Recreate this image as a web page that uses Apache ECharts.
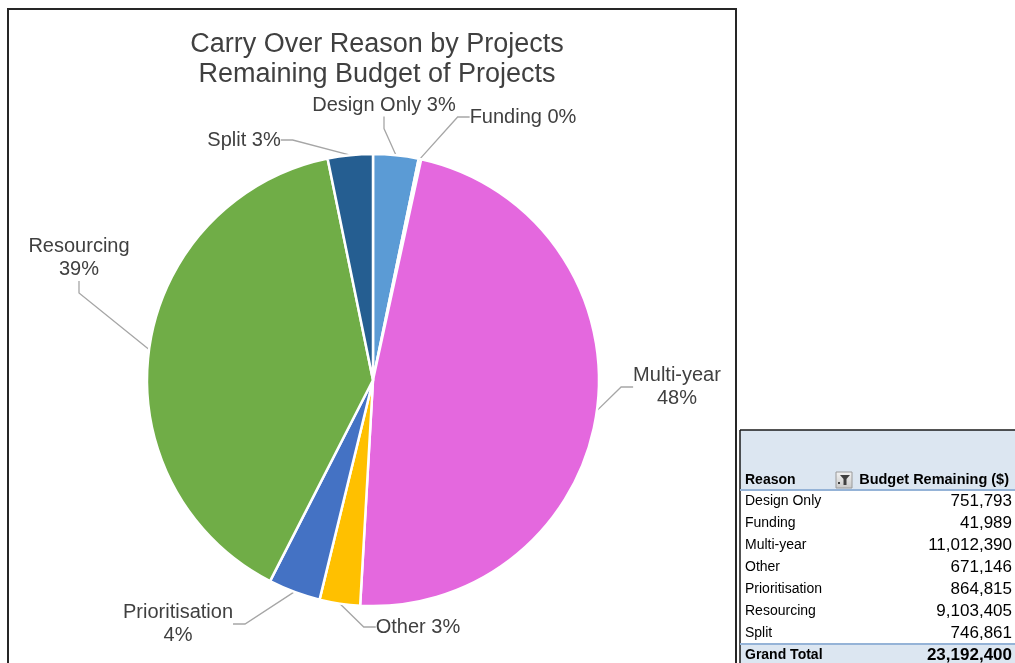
<!DOCTYPE html>
<html>
<head>
<meta charset="utf-8">
<title>Carry Over Reason by Projects</title>
<script src="https://cdn.jsdelivr.net/npm/echarts@6/dist/echarts.min.js"></script>
<style>
  html, body { margin: 0; padding: 0; background: #ffffff; }
  #chart { width: 1015px; height: 663px; }
</style>
</head>
<body>
<div id="chart"></div>
<script>
// Carry-over reasons and the budget still remaining for each
const reasons = ['Design Only', 'Funding', 'Multi-year', 'Other', 'Prioritisation', 'Resourcing', 'Split'];
const budgetRemaining = [751793, 41989, 11012390, 671146, 864815, 9103405, 746861];
const grandTotal = 23192400;
const sliceColors = ['#5B9BD5', '#ED7D31', '#E468DE', '#FFC000', '#4472C4', '#70AD47', '#255E91'];
// reasons whose label wraps onto two lines
const twoLineLabels = ['Multi-year', 'Resourcing', 'Prioritisation'];

const FONT = '"Liberation Sans", Arial, sans-serif';
const TEXT = '#404040';

// label anchor points (centre of each label) around the pie
const labelAnchors = {
  'Design Only': [384, 105],
  'Funding': [523, 117],
  'Multi-year': [677, 387],
  'Other': [418, 627],
  'Prioritisation': [178, 624],
  'Resourcing': [79, 258],
  'Split': [244, 140]
};

const pieData = reasons.map((name, i) => ({
  name: name,
  value: budgetRemaining[i],
  itemStyle: { color: sliceColors[i] },
  label: { formatter: twoLineLabels.includes(name) ? '{b}\n{d}%' : '{b} {d}%' }
}));

// pivot table beside the chart
const tableLeft = 740;
const tableTop = 430;
const rowTop = 501;
const rowStep = 22;
const tableEls = [];
tableEls.push({ type: 'rect', shape: { x: tableLeft, y: tableTop, width: 1015 - tableLeft, height: 60 }, style: { fill: '#DCE6F1' }, z: 1 });
tableEls.push({ type: 'line', shape: { x1: tableLeft, y1: tableTop, x2: 1015, y2: tableTop }, style: { stroke: '#1a1a1a', lineWidth: 1.5 }, z: 3 });
tableEls.push({ type: 'line', shape: { x1: tableLeft, y1: tableTop, x2: tableLeft, y2: 663 }, style: { stroke: '#1a1a1a', lineWidth: 1.5 }, z: 3 });
tableEls.push({ type: 'line', shape: { x1: tableLeft, y1: 490, x2: 1015, y2: 490 }, style: { stroke: '#95B3D7', lineWidth: 2 }, z: 3 });
tableEls.push({ type: 'text', x: 745, y: 480, style: { text: 'Reason', fill: '#000', fontFamily: FONT, fontSize: 14, fontWeight: 'bold', align: 'left', verticalAlign: 'middle' }, z: 4 });
// filter button
tableEls.push({ type: 'rect', shape: { x: 836, y: 472, width: 16, height: 16 }, style: { fill: { type: 'linear', x: 0, y: 0, x2: 0, y2: 1, colorStops: [{ offset: 0, color: '#F4F4F4' }, { offset: 1, color: '#C8C8C8' }] }, stroke: '#9A9A9A', lineWidth: 1 }, z: 4 });
tableEls.push({ type: 'polygon', shape: { points: [[840, 475], [850, 475], [846.5, 479], [846.5, 485], [843.5, 485], [843.5, 479]] }, style: { fill: '#404040' }, z: 5 });
tableEls.push({ type: 'rect', shape: { x: 838, y: 482, width: 2, height: 2 }, style: { fill: '#404040' }, z: 5 });
tableEls.push({ type: 'text', x: 1009, y: 480, style: { text: 'Budget Remaining ($)', fill: '#000', fontFamily: FONT, fontSize: 14.5, fontWeight: 'bold', align: 'right', verticalAlign: 'middle' }, z: 4 });
reasons.forEach((name, i) => {
  const y = rowTop + rowStep * i;
  tableEls.push({ type: 'text', x: 745, y: y, style: { text: name, fill: '#000', fontFamily: FONT, fontSize: 14, align: 'left', verticalAlign: 'middle' }, z: 4 });
  tableEls.push({ type: 'text', x: 1012, y: y, style: { text: budgetRemaining[i].toLocaleString('en-US'), fill: '#000', fontFamily: FONT, fontSize: 17, align: 'right', verticalAlign: 'middle' }, z: 4 });
});
const totalY = rowTop + rowStep * reasons.length;
tableEls.push({ type: 'rect', shape: { x: tableLeft, y: totalY - 11, width: 1015 - tableLeft, height: 30 }, style: { fill: '#DCE6F1' }, z: 1 });
tableEls.push({ type: 'line', shape: { x1: tableLeft, y1: totalY - 11, x2: 1015, y2: totalY - 11 }, style: { stroke: '#95B3D7', lineWidth: 2 }, z: 3 });
tableEls.push({ type: 'text', x: 745, y: totalY, style: { text: 'Grand Total', fill: '#000', fontFamily: FONT, fontSize: 14, fontWeight: 'bold', align: 'left', verticalAlign: 'middle' }, z: 4 });
tableEls.push({ type: 'text', x: 1012, y: totalY, style: { text: grandTotal.toLocaleString('en-US'), fill: '#000', fontFamily: FONT, fontSize: 17, fontWeight: 'bold', align: 'right', verticalAlign: 'middle' }, z: 4 });

const chart = echarts.init(document.getElementById('chart'), null, { renderer: 'canvas' });
chart.setOption({
  backgroundColor: '#ffffff',
  animation: false,
  title: {
    text: 'Carry Over Reason by Projects\nRemaining Budget of Projects',
    left: 372,
    top: 25,
    textAlign: 'center',
    textStyle: { fontFamily: FONT, fontSize: 27, fontWeight: 'normal', color: TEXT, lineHeight: 30 }
  },
  graphic: [
    // chart area frame
    { type: 'rect', shape: { x: 8, y: 9, width: 728, height: 700 }, style: { fill: 'none', stroke: '#262626', lineWidth: 2 }, z: 0 }
  ].concat(tableEls),
  series: [{
    type: 'pie',
    center: [373, 380],
    radius: 226,
    startAngle: 90,
    clockwise: true,
    percentPrecision: 0,
    avoidLabelOverlap: false,
    itemStyle: { borderColor: '#ffffff', borderWidth: 2.5 },
    label: {
      show: true,
      position: 'outside',
      fontFamily: FONT,
      fontSize: 20,
      color: TEXT,
      lineHeight: 23,
      align: 'center'
    },
    labelLine: {
      show: true,
      length: 15,
      length2: 12,
      lineStyle: { color: '#A6A6A6', width: 1.3 }
    },
    labelLayout: function (params) {
      const p = labelAnchors[reasons[params.dataIndex]];
      return { x: p[0], y: p[1], align: 'center', verticalAlign: 'middle' };
    },
    emphasis: { disabled: true },
    data: pieData
  }]
});
</script>
</body>
</html>
